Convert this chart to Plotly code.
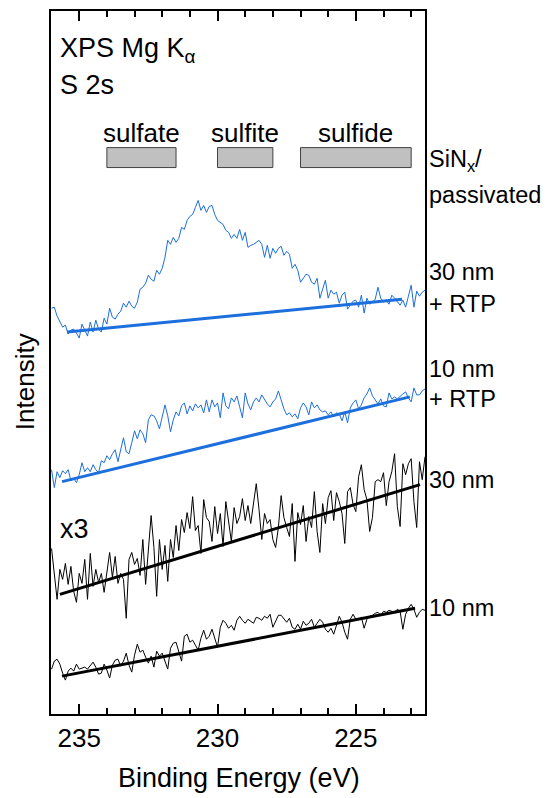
import plotly.graph_objects as go

# Binding energy grid (eV)
energy = [236.0, 235.9, 235.8, 235.7, 235.6, 235.5, 235.4, 235.3, 235.2, 235.1,
          235.0, 234.9, 234.8, 234.7, 234.6, 234.5, 234.4, 234.3, 234.2, 234.1,
          234.0, 233.9, 233.8, 233.7, 233.6, 233.5, 233.4, 233.3, 233.2, 233.1,
          233.0, 232.9, 232.8, 232.7, 232.6, 232.5, 232.4, 232.3, 232.2, 232.1,
          232.0, 231.9, 231.8, 231.7, 231.6, 231.5, 231.4, 231.3, 231.2, 231.1,
          231.0, 230.9, 230.8, 230.7, 230.6, 230.5, 230.4, 230.3, 230.2, 230.1,
          230.0, 229.9, 229.8, 229.7, 229.6, 229.5, 229.4, 229.3, 229.2, 229.1,
          229.0, 228.9, 228.8, 228.7, 228.6, 228.5, 228.4, 228.3, 228.2, 228.1,
          228.0, 227.9, 227.8, 227.7, 227.6, 227.5, 227.4, 227.3, 227.2, 227.1,
          227.0, 226.9, 226.8, 226.7, 226.6, 226.5, 226.4, 226.3, 226.2, 226.1,
          226.0, 225.9, 225.8, 225.7, 225.6, 225.5, 225.4, 225.3, 225.2, 225.1,
          225.0, 224.9, 224.8, 224.7, 224.6, 224.5, 224.4, 224.3, 224.2, 224.1,
          224.0, 223.9, 223.8, 223.7, 223.6, 223.5, 223.4, 223.3, 223.2, 223.1,
          223.0, 222.9, 222.8, 222.7, 222.6, 222.5]

# SiNx 30 nm + RTP (offset, arb. units)
i_30nm_rtp = [407, 408, 399, 393, 388, 390, 381, 385, 386, 382,
              377, 391, 384, 379, 393, 383, 395, 386, 383, 397,
              391, 407, 398, 396, 401, 404, 412, 408, 414, 409,
              407, 413, 426, 428, 432, 440, 436, 434, 445, 441,
              447, 458, 475, 471, 478, 473, 477, 488, 486, 495,
              499, 501, 508, 515, 505, 510, 503, 509, 510, 501,
              495, 493, 491, 485, 483, 477, 481, 477, 486, 475,
              483, 468, 470, 471, 473, 475, 471, 458, 470, 457,
              467, 462, 467, 469, 460, 464, 461, 447, 451, 445,
              433, 437, 441, 440, 433, 431, 437, 417, 427, 435,
              417, 425, 421, 423, 412, 420, 423, 406, 410, 414,
              415, 408, 420, 402, 417, 411, 413, 416, 428, 417,
              413, 415, 411, 420, 417, 414, 410, 415, 408, 419,
              430, 408, 424, 419, 423, 425]

# SiNx 10 nm + RTP
i_10nm_rtp = [245, 227, 243, 237, 244, 241, 245, 234, 236, 232,
              240, 252, 243, 247, 243, 250, 245, 242, 254, 252,
              259, 255, 261, 265, 253, 264, 277, 263, 261, 272,
              284, 276, 285, 281, 272, 295, 300, 299, 294, 286,
              299, 310, 299, 283, 295, 303, 299, 309, 312, 301,
              309, 304, 311, 307, 310, 302, 315, 303, 315, 308,
              312, 297, 322, 309, 306, 317, 313, 319, 308, 297,
              322, 311, 305, 313, 317, 313, 320, 315, 311, 308,
              313, 316, 324, 315, 306, 300, 302, 298, 301, 296,
              307, 312, 308, 300, 313, 307, 310, 305, 303, 304,
              300, 303, 298, 302, 301, 294, 303, 292, 307, 312,
              315, 306, 310, 317, 321, 327, 319, 315, 311, 316,
              309, 308, 322, 316, 318, 316, 319, 321, 323, 317,
              313, 327, 320, 320, 324, 326]

# SiNx 30 nm (x3)
i_30nm = [166, 138, 115, 145, 135, 151, 130, 148, 123, 112,
          141, 131, 155, 115, 161, 128, 145, 132, 141, 122,
          142, 162, 137, 158, 131, 141, 135, 96, 155, 162,
          150, 156, 139, 175, 130, 168, 199, 167, 118, 175,
          145, 169, 133, 175, 157, 189, 164, 195, 182, 202,
          186, 218, 184, 189, 161, 215, 197, 193, 173, 208,
          181, 201, 168, 213, 192, 173, 207, 191, 198, 216,
          194, 209, 191, 213, 231, 205, 175, 201, 191, 195,
          175, 167, 187, 219, 197, 187, 178, 211, 153, 202,
          190, 209, 173, 198, 187, 223, 183, 162, 211, 191,
          217, 224, 194, 222, 213, 201, 171, 223, 227, 210,
          203, 238, 250, 225, 215, 183, 197, 233, 235, 233,
          242, 209, 233, 243, 261, 208, 188, 251, 240, 251,
          256, 213, 187, 253, 235, 258]

# SiNx 10 nm
i_10nm = [45, 53, 55, 50, 41, 34, 43, 46, 43, 50,
          45, 46, 47, 45, 48, 52, 47, 40, 41, 50,
          44, 36, 49, 54, 55, 48, 53, 61, 49, 42,
          59, 70, 62, 64, 57, 51, 58, 47, 63, 58,
          61, 53, 45, 66, 71, 72, 61, 53, 78, 80,
          72, 74, 69, 64, 76, 84, 75, 78, 85, 77,
          67, 87, 94, 91, 86, 89, 84, 94, 98, 94,
          91, 95, 93, 91, 97, 96, 94, 98, 96, 100,
          87, 93, 99, 99, 96, 92, 96, 87, 85, 90,
          85, 93, 89, 91, 95, 87, 91, 95, 92, 85,
          82, 86, 80, 90, 98, 92, 82, 75, 95, 100,
          95, 95, 97, 86, 95, 98, 99, 101, 102, 99,
          103, 102, 104, 103, 102, 105, 103, 85, 100, 106,
          110, 105, 97, 102, 105, 104]

# Linear backgrounds: (start E, end E), (start I, end I)
bg_30nm_rtp_e = [235.44, 223.33]
bg_30nm_rtp_i = [383, 416]
bg_10nm_rtp_e = [235.62, 223.05]
bg_10nm_rtp_i = [233, 318]
bg_30nm_e = [235.70, 222.68]
bg_30nm_i = [120, 230]
bg_10nm_e = [235.62, 222.86]
bg_10nm_i = [38, 106]

# Chemical-state ranges (eV)
states = ["sulfate", "sulfite", "sulfide"]
state_hi = [234.0, 230.0, 227.0]
state_lo = [231.5, 228.0, 223.0]

BLUE = "#1c6fdc"
FONT = "Liberation Sans, Arial, sans-serif"

fig = go.Figure()
spectra = [(i_30nm_rtp, BLUE), (i_10nm_rtp, BLUE), (i_30nm, "black"), (i_10nm, "black")]
for ys, c in spectra:
    fig.add_trace(go.Scatter(x=energy, y=ys, mode="lines",
                             line=dict(color=c, width=1), showlegend=False))
bgs = [(bg_30nm_rtp_e, bg_30nm_rtp_i, BLUE), (bg_10nm_rtp_e, bg_10nm_rtp_i, BLUE),
       (bg_30nm_e, bg_30nm_i, "black"), (bg_10nm_e, bg_10nm_i, "black")]
for xe, yi, c in bgs:
    fig.add_trace(go.Scatter(x=xe, y=yi, mode="lines",
                             line=dict(color=c, width=3), showlegend=False))

for name, hi, lo in zip(states, state_hi, state_lo):
    fig.add_shape(type="rect", xref="x", yref="y", x0=hi, x1=lo, y0=548, y1=568,
                  fillcolor="#c0c0c0", line=dict(color="#404040", width=1))
    fig.add_annotation(x=(hi + lo) / 2, y=583, xref="x", yref="y", text=name,
                       showarrow=False, xanchor="center", yanchor="middle",
                       font=dict(size=26, color="black", family=FONT))

ann = [
    ("XPS Mg K<sub>α</sub>", 235.77, 666),
    ("S 2s", 235.77, 631),
    ("x3", 235.77, 186),
]
for t, x, y in ann:
    fig.add_annotation(x=x, y=y, xref="x", yref="y", text=t, showarrow=False,
                       xanchor="left", yanchor="middle",
                       font=dict(size=27, color="black", family=FONT))

right_labels = [
    ("SiN<sub>x</sub>/", 555),
    ("passivated", 520),
    ("30 nm", 443),
    ("+ RTP", 411),
    ("10 nm", 346),
    ("+ RTP", 316),
    ("30 nm", 235),
    ("10 nm", 106),
]
for t, y in right_labels:
    fig.add_annotation(x=1.006, y=y, xref="paper", yref="y", text=t, showarrow=False,
                       xanchor="left", yanchor="middle",
                       font=dict(size=23.5, color="black", family=FONT))

fig.add_annotation(x=-0.0695, y=0.472, xref="paper", yref="paper", text="Intensity",
                   textangle=-90, showarrow=False, xanchor="center", yanchor="middle",
                   font=dict(size=26, color="black", family=FONT))
fig.add_annotation(x=0.504, y=-0.0908, xref="paper", yref="paper",
                   text="Binding Energy (eV)", showarrow=False,
                   xanchor="center", yanchor="middle",
                   font=dict(size=27, color="black", family=FONT))

fig.update_layout(
    width=542, height=790,
    margin=dict(l=43, r=125, t=1, b=84),
    paper_bgcolor="white", plot_bgcolor="white",
    font=dict(family=FONT, size=26, color="black"),
    showlegend=False,
    xaxis=dict(range=[236.02, 222.5], showgrid=False, zeroline=False,
               showline=True, linecolor="black", linewidth=2, mirror="ticks",
               ticks="inside", ticklen=10, tickwidth=1.5, tickcolor="black",
               tick0=225, dtick=5, tickfont=dict(size=26, family=FONT),
               minor=dict(ticks="inside", ticklen=6, tickwidth=1.5, dtick=1,
                          tickcolor="black", showgrid=False)),
    yaxis=dict(range=[0, 705], showgrid=False, zeroline=False, showticklabels=False,
               showline=True, linecolor="black", linewidth=2, mirror=True, ticks=""),
)

fig.write_html("out.html")
